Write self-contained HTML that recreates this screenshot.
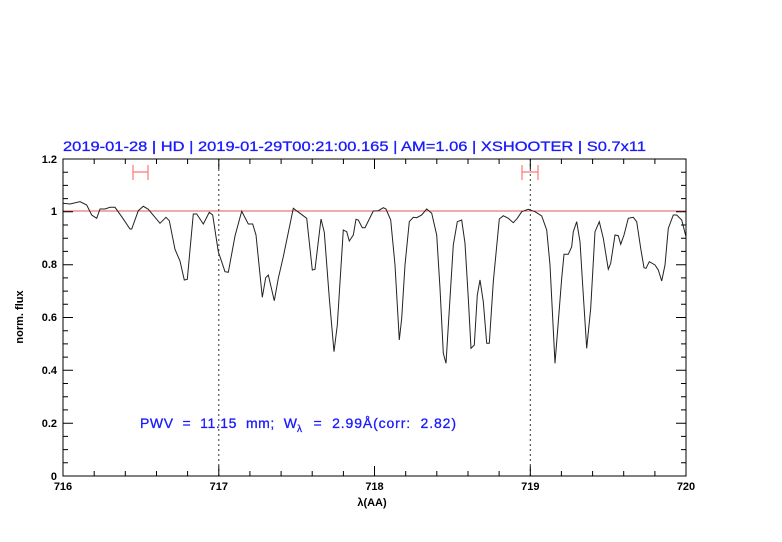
<!DOCTYPE html>
<html><head><meta charset="utf-8"><style>body{margin:0;background:#fff}svg{display:block}</style></head><body>
<svg width="782" height="542" viewBox="0 0 782 542" xmlns="http://www.w3.org/2000/svg" font-family="Liberation Sans, sans-serif">
<rect width="782" height="542" fill="#fff"/>
<text x="63" y="151" font-size="14" fill="#1a1aff" stroke="#1a1aff" stroke-width="0.3" textLength="583" lengthAdjust="spacingAndGlyphs">2019-01-28 | HD | 2019-01-29T00:21:00.165 | AM=1.06 | XSHOOTER | S0.7x11</text>
<line x1="63" y1="211" x2="686" y2="211" stroke="#e05a5a" stroke-width="1"/>
<g stroke="#333" stroke-width="1" stroke-dasharray="2,3">
<line x1="218.8" y1="159" x2="218.8" y2="476"/>
<line x1="530.3" y1="159" x2="530.3" y2="476"/>
</g>
<g stroke="#f77" stroke-width="1.2" fill="none">
<path d="M133 172H148M133 165V180M148 165V180"/>
<path d="M522 172H538M522 165V180M538 165V180"/>
</g>
<polyline fill="none" stroke="#222" stroke-width="1" points="63,203.3 70,204 80,201.7 86.7,205 91.7,215 96.7,218.3 100,209 105,209 110,207.3 115,207.3 121.7,216.7 130,229 131.7,229 138.3,210.7 143.3,206.3 148.3,209.3 160,223.3 166,217.3 169.3,220.7 175,249.3 180,261 184.3,280 187.3,279.3 193.3,214 196.7,214 203.3,224 209.3,212.3 212.7,215 218.3,251.7 225,271.7 228.3,272.3 235,236 241.7,211.3 248.3,224 252.7,224 256,235 262.3,297.3 265.7,277.7 268.3,275 274.3,300.7 278.3,278.3 283.3,256.7 293.3,208.3 306.7,218.3 312.3,270 315,269.3 321,219 324.3,232.3 329.3,298.3 334,351.7 337.3,325 343.3,230 346.7,231.7 349.3,241 353.3,235 356,219.3 358.3,220 362.3,227.7 365,227.7 373.3,211 378.3,210.7 383.3,207.7 386,209 390.7,220 395,265 399.3,340 401.7,318.3 405,265 409.3,221.7 413.3,217.3 416.7,217.7 421.7,215 426.7,209 431.7,213.3 436.7,235 440,288.3 443.3,353.3 446,363.3 450,298.3 453.3,245 457.3,221.7 461.7,220 465,243.3 468.3,298.3 471,348.3 474.3,345 477.3,295 480,280 483.3,301.7 486.7,343.3 489.3,343.3 493.3,281.7 499.3,219 503.3,215.7 508.3,218.3 513.3,222.7 517.3,218.3 521.7,211.7 528.3,209.3 535,211.7 541.7,216 546.7,230 550,265 555,363.3 558.3,321.7 561.7,278.3 564,254.3 568.3,254.3 571.7,246.7 573.3,231.7 576.7,221.7 580,241.7 583.3,295 586.7,348.3 590.7,308.3 595,231.7 599.3,221.7 603.3,238.3 608.3,269.3 610.7,263.3 615,235 618.3,235.7 620.7,244.3 624,235 628.3,218.3 633.3,217.3 636.7,221.7 640.7,248.3 644,267.7 646,268.3 649.3,261.7 655,265 658.3,270 661.7,281 665,265 668.3,228.3 673.3,215 676.7,215 681.7,220 686,236.7"/>
<rect x="63" y="159" width="623" height="317" fill="none" stroke="#000" stroke-width="1"/>
<g stroke="#000" stroke-width="1">
<path d="M94.2 476v-5M125.3 476v-5M156.5 476v-5M187.6 476v-5M249.9 476v-5M281.1 476v-5M312.2 476v-5M343.4 476v-5M405.7 476v-5M436.8 476v-5M468 476v-5M499.1 476v-5M561.4 476v-5M592.6 476v-5M623.7 476v-5M654.9 476v-5M218.8 476v-10M374.5 476v-10M530.3 476v-10"/>
<path d="M94.2 159v5M125.3 159v5M156.5 159v5M187.6 159v5M249.9 159v5M281.1 159v5M312.2 159v5M343.4 159v5M405.7 159v5M436.8 159v5M468 159v5M499.1 159v5M561.4 159v5M592.6 159v5M623.7 159v5M654.9 159v5M218.8 159v10M374.5 159v10M530.3 159v10"/>
<path d="M63 462.8h5M63 449.6h5M63 436.4h5M63 409.9h5M63 396.7h5M63 383.5h5M63 357.1h5M63 343.9h5M63 330.7h5M63 304.3h5M63 291.1h5M63 277.9h5M63 251.4h5M63 238.2h5M63 225h5M63 198.6h5M63 185.4h5M63 172.2h5M63 423.2h10M63 370.3h10M63 317.5h10M63 264.7h10M63 211.8h10"/>
<path d="M686 462.8h-5M686 449.6h-5M686 436.4h-5M686 409.9h-5M686 396.7h-5M686 383.5h-5M686 357.1h-5M686 343.9h-5M686 330.7h-5M686 304.3h-5M686 291.1h-5M686 277.9h-5M686 251.4h-5M686 238.2h-5M686 225h-5M686 198.6h-5M686 185.4h-5M686 172.2h-5M686 423.2h-10M686 370.3h-10M686 317.5h-10M686 264.7h-10M686 211.8h-10"/>
</g>
<g font-size="11" font-weight="bold" fill="#000" text-anchor="middle">
<text x="63" y="490">716</text><text x="218.8" y="490">717</text><text x="374.5" y="490">718</text><text x="530.3" y="490">719</text><text x="686" y="490">720</text>
<text x="372" y="506">λ(AA)</text>
</g>
<g font-size="11" font-weight="bold" fill="#000" text-anchor="end">
<text x="57" y="480">0</text><text x="57" y="427">0.2</text><text x="57" y="374">0.4</text><text x="57" y="321">0.6</text><text x="57" y="268">0.8</text><text x="57" y="215">1</text><text x="57" y="163">1.2</text>
</g>
<text transform="translate(23,317) rotate(-90)" font-size="11" font-weight="bold" text-anchor="middle">norm. flux</text>
<g font-size="14" fill="#1a1aff" stroke="#1a1aff" stroke-width="0.3">
<text x="140" y="428" textLength="157" lengthAdjust="spacing" xml:space="preserve">PWV  =  11.15  mm;  W</text>
<text x="297" y="432" font-size="10">λ</text>
<text x="304" y="428" textLength="152" lengthAdjust="spacing" xml:space="preserve">  =  2.99Å(corr:  2.82)</text>
</g>
</svg>
</body></html>
